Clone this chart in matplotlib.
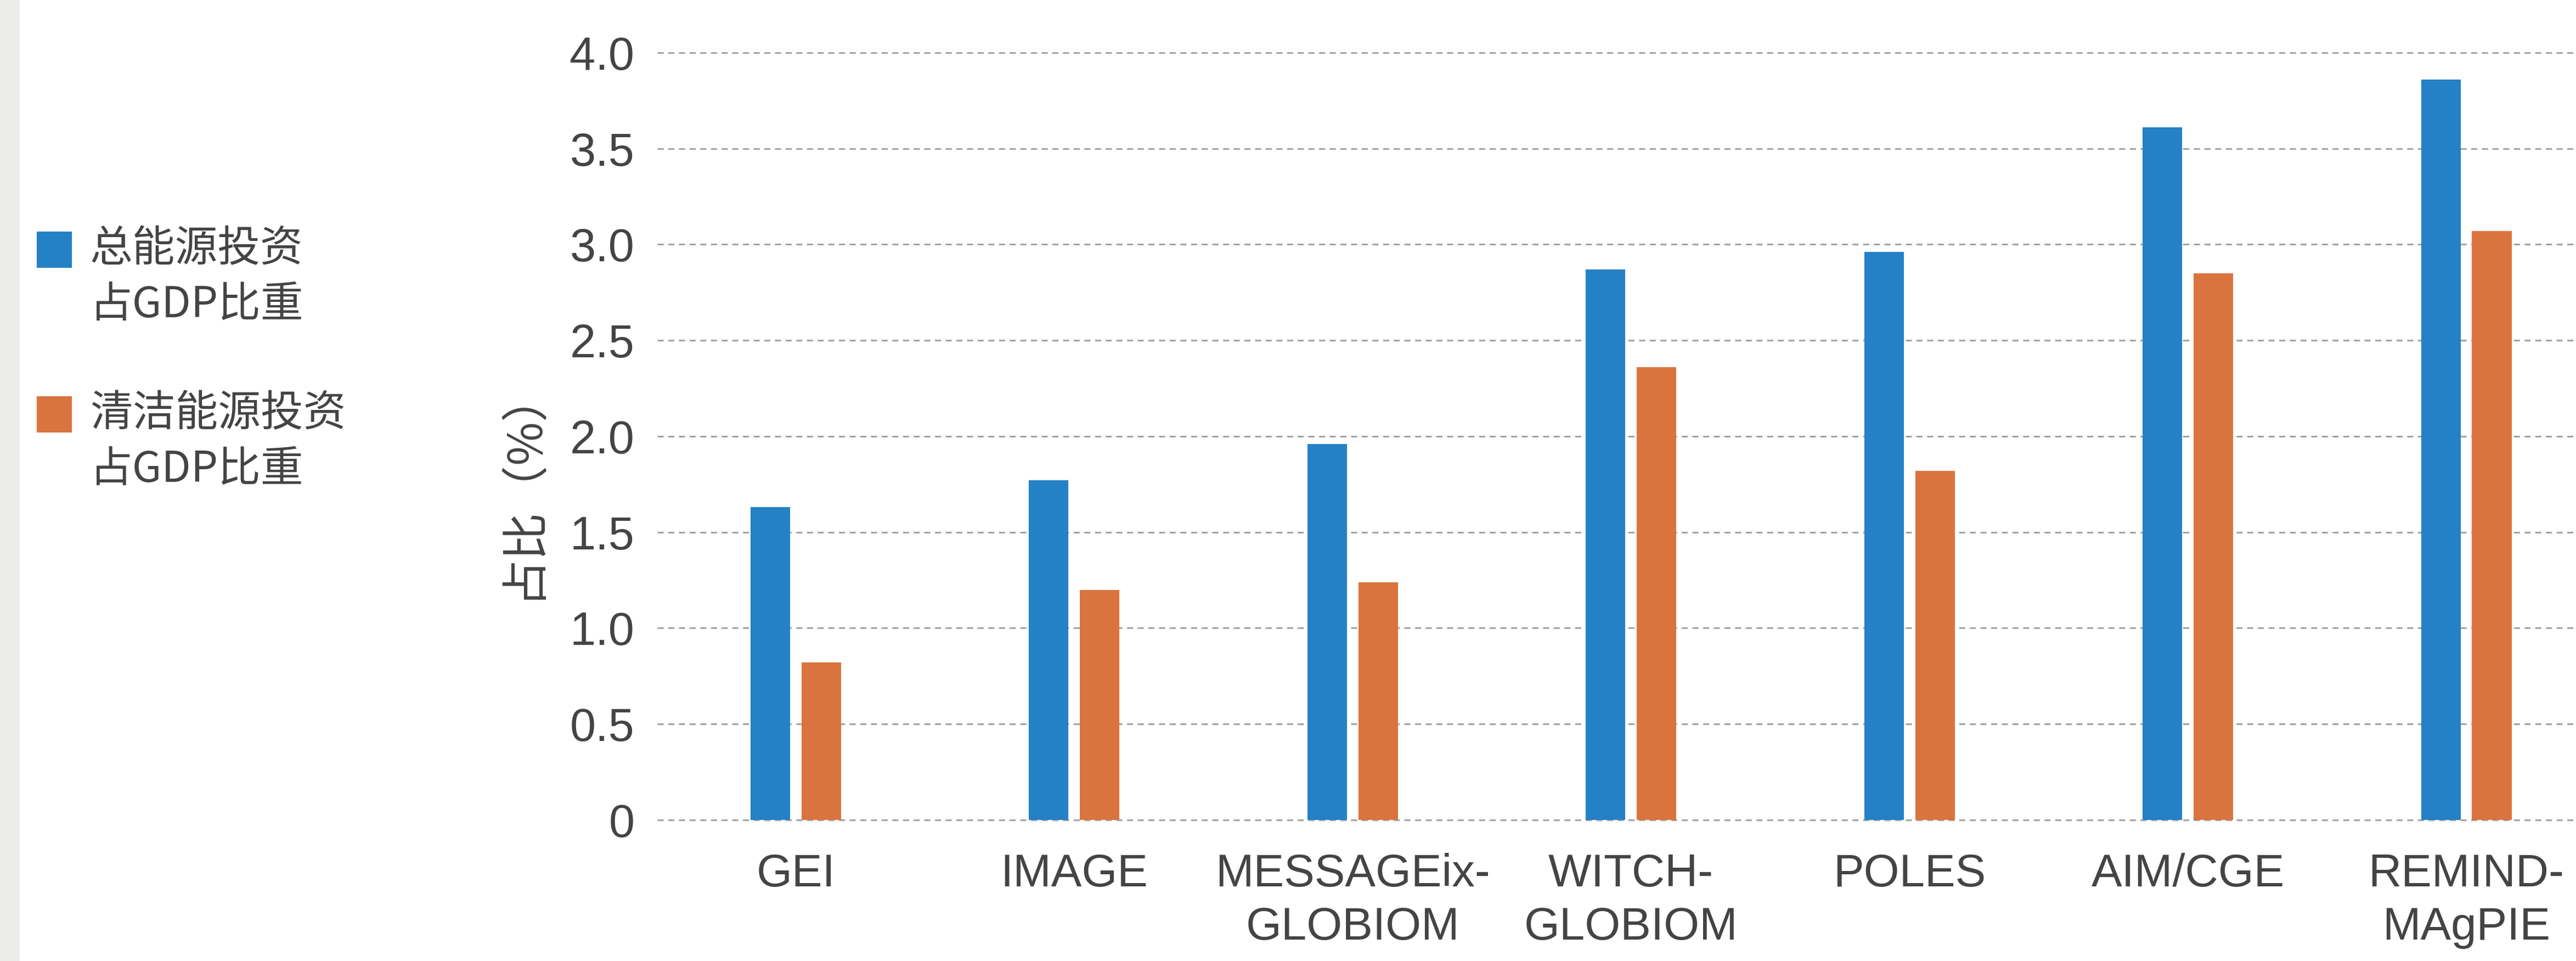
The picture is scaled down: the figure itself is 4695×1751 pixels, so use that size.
import matplotlib
matplotlib.use("Agg")
import matplotlib.pyplot as plt
from matplotlib.patches import Rectangle
import numpy as np

plt.rcParams['font.family'] = ['Liberation Sans', 'Noto Sans CJK SC', 'DejaVu Sans']

# model names and investment shares (% of GDP)
models = ["GEI", "IMAGE", "MESSAGEix-\nGLOBIOM", "WITCH-\nGLOBIOM", "POLES", "AIM/CGE", "REMIND-\nMAgPIE"]
total_invest = [1.63, 1.77, 1.96, 2.87, 2.96, 3.61, 3.86]
clean_invest = [0.82, 1.20, 1.24, 2.36, 1.82, 2.85, 3.07]
series_names = ["总能源投资\n占GDP比重", "清洁能源投资\n占GDP比重"]
series_colors = ["#2581c6", "#da743f"]
yticks = [0, 0.5, 1.0, 1.5, 2.0, 2.5, 3.0, 3.5, 4.0]
ytick_labels = ["0", "0.5", "1.0", "1.5", "2.0", "2.5", "3.0", "3.5", "4.0"]

W, H = 4695, 1751
fig = plt.figure(figsize=(W / 100, H / 100), dpi=100)
fig.patch.set_facecolor("white")

# grey strip on the far left
fig.patches.append(Rectangle((0, 0), 36 / W, 1, transform=fig.transFigure,
                             facecolor="#ececea", edgecolor="none"))

# axes placed in pixel terms
y0_px, y4_px = 1494, 96
ppu = (y0_px - y4_px) / 4.0
ylo, yhi = -0.03, 4.03
ax_left = 1198 / W
ax_bottom = (H - (y0_px - ylo * ppu)) / H
ax_top = (H - (y4_px - (yhi - 4.0) * ppu)) / H
ax = fig.add_axes([ax_left, ax_bottom, 1 - ax_left, ax_top - ax_bottom])

x = np.arange(len(models))
width = 0.142
offset = 0.0915
ax.bar(x - offset, total_invest, width, color=series_colors[0], zorder=3)
ax.bar(x + offset, clean_invest, width, color=series_colors[1], zorder=3)

ax.set_xlim(-0.497, 6.394)
ax.set_ylim(ylo, yhi)
ax.set_yticks(yticks)
ax.set_yticklabels(ytick_labels)
ax.set_xticks(x)
ax.set_xticklabels(models, linespacing=1.3)
ax.tick_params(axis="y", length=0, pad=30, labelsize=61, labelcolor="#444444")
ax.tick_params(axis="x", length=0, pad=36, labelsize=60, labelcolor="#444444")
ax.grid(axis="y", color="#9c9c9c", lw=2.0, ls=(0, (4, 3)), zorder=0)
ax.set_axisbelow(True)
for s in ax.spines.values():
    s.set_visible(False)

ax.set_ylabel("占比（%）", fontsize=62, color="#444444",
              family=['Noto Sans CJK SC', 'DejaVu Sans'])
ax.yaxis.set_label_coords(-0.058, 0.44)

# legend drawn by hand so the swatch sits on the first line
legend_y = [455, 755]
for name, col, yp in zip(series_names, series_colors, legend_y):
    fig.patches.append(Rectangle((67 / W, 1 - (yp + 33) / H), 64 / W, 66 / H,
                                 transform=fig.transFigure, facecolor=col, edgecolor="none"))
    fig.text(164 / W, 1 - (yp - 40) / H, name, fontsize=56, color="#444444",
             va="top", ha="left", linespacing=1.35,
             family=['Noto Sans CJK SC', 'DejaVu Sans'])

fig.savefig("out.png", dpi=100)
